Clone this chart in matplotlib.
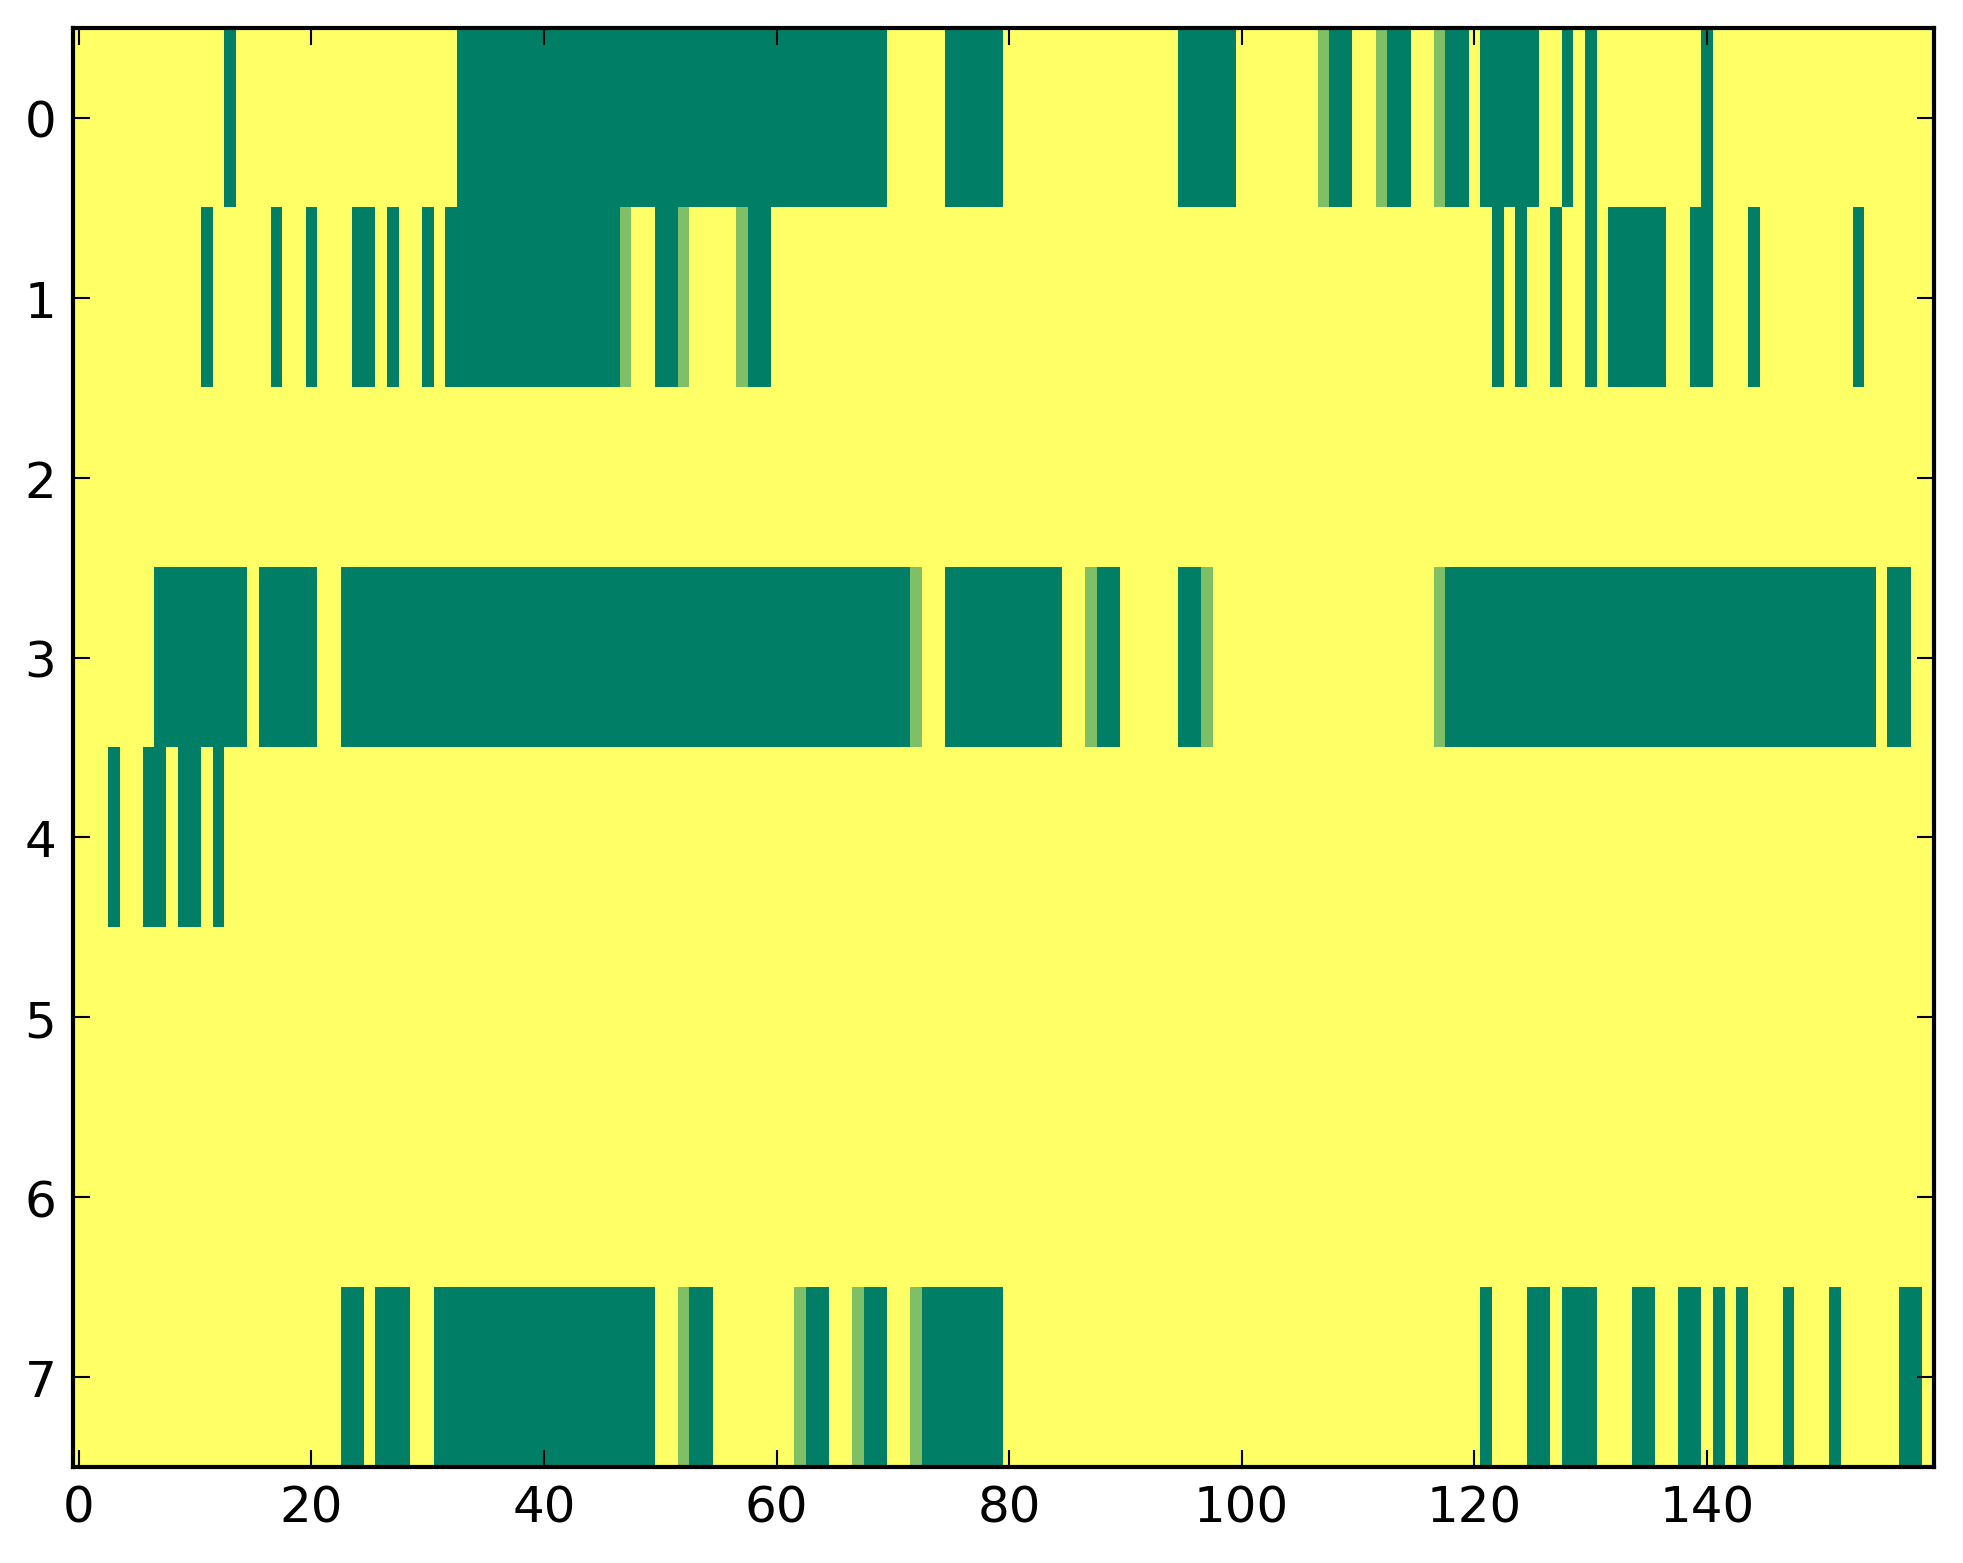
import numpy as np
import matplotlib
matplotlib.use("Agg")
import matplotlib.pyplot as plt

# Cell levels per row: 0 = empty (yellow), 1 = partial (light green), 2 = full (dark green)
# (spaces are only for readability, every 10 columns)
row0 = "0000000000 0002000000 0000000000 0002222222 2222222222 2222222222 2222222222 0000022222 0000000000 0000022222 0000000122 0012200122 0222220020 2000000000 2000000000 0000000000"
row1 = "0000000000 0200000200 2000220200 2022222222 2222222100 2210000122 0000000000 0000000000 0000000000 0000000000 0000000000 0000000000 0020200200 2022222002 2000200000 0002000000"
row2 = "0000000000 0000000000 0000000000 0000000000 0000000000 0000000000 0000000000 0000000000 0000000000 0000000000 0000000000 0000000000 0000000000 0000000000 0000000000 0000000000"
row3 = "0000000222 2222202222 2002222222 2222222222 2222222222 2222222222 2222222222 2210022222 2222200122 0000022100 0000000000 0000000122 2222222222 2222222222 2222222222 2222202200"
row4 = "0002002202 2020000000 0000000000 0000000000 0000000000 0000000000 0000000000 0000000000 0000000000 0000000000 0000000000 0000000000 0000000000 0000000000 0000000000 0000000000"
row5 = "0000000000 0000000000 0000000000 0000000000 0000000000 0000000000 0000000000 0000000000 0000000000 0000000000 0000000000 0000000000 0000000000 0000000000 0000000000 0000000000"
row6 = "0000000000 0000000000 0000000000 0000000000 0000000000 0000000000 0000000000 0000000000 0000000000 0000000000 0000000000 0000000000 0000000000 0000000000 0000000000 0000000000"
row7 = "0000000000 0000000000 0002202220 0222222222 2222222222 0012200000 0012200122 0012222222 0000000000 0000000000 0000000000 0000000000 0200022022 2000220022 0202000200 0200000220"

rows = [row0, row1, row2, row3, row4, row5, row6, row7]
xticks = [0, 20, 40, 60, 80, 100, 120, 140]
yticks = [0, 1, 2, 3, 4, 5, 6, 7]

data = np.array([[int(ch) for ch in r.replace(" ", "")] for r in rows], dtype=float) / 2.0

plt.rcParams['font.family'] = ['DejaVu Sans']
fig = plt.figure(figsize=(1963 / 300, 1564 / 300), dpi=300, facecolor='white')
ax = fig.add_axes([0.0372, 0.0614, 0.9478, 0.9201])
ax.imshow(data, cmap='summer_r', vmin=0, vmax=1, aspect='auto', interpolation='nearest')

ax.set_xticks(xticks)
ax.set_yticks(yticks)
ax.tick_params(direction='in', top=True, right=True, length=4, width=0.5,
               labelsize=12, pad=4)
for s in ax.spines.values():
    s.set_linewidth(1.0)

fig.savefig("out.png", dpi=300, facecolor='white')
